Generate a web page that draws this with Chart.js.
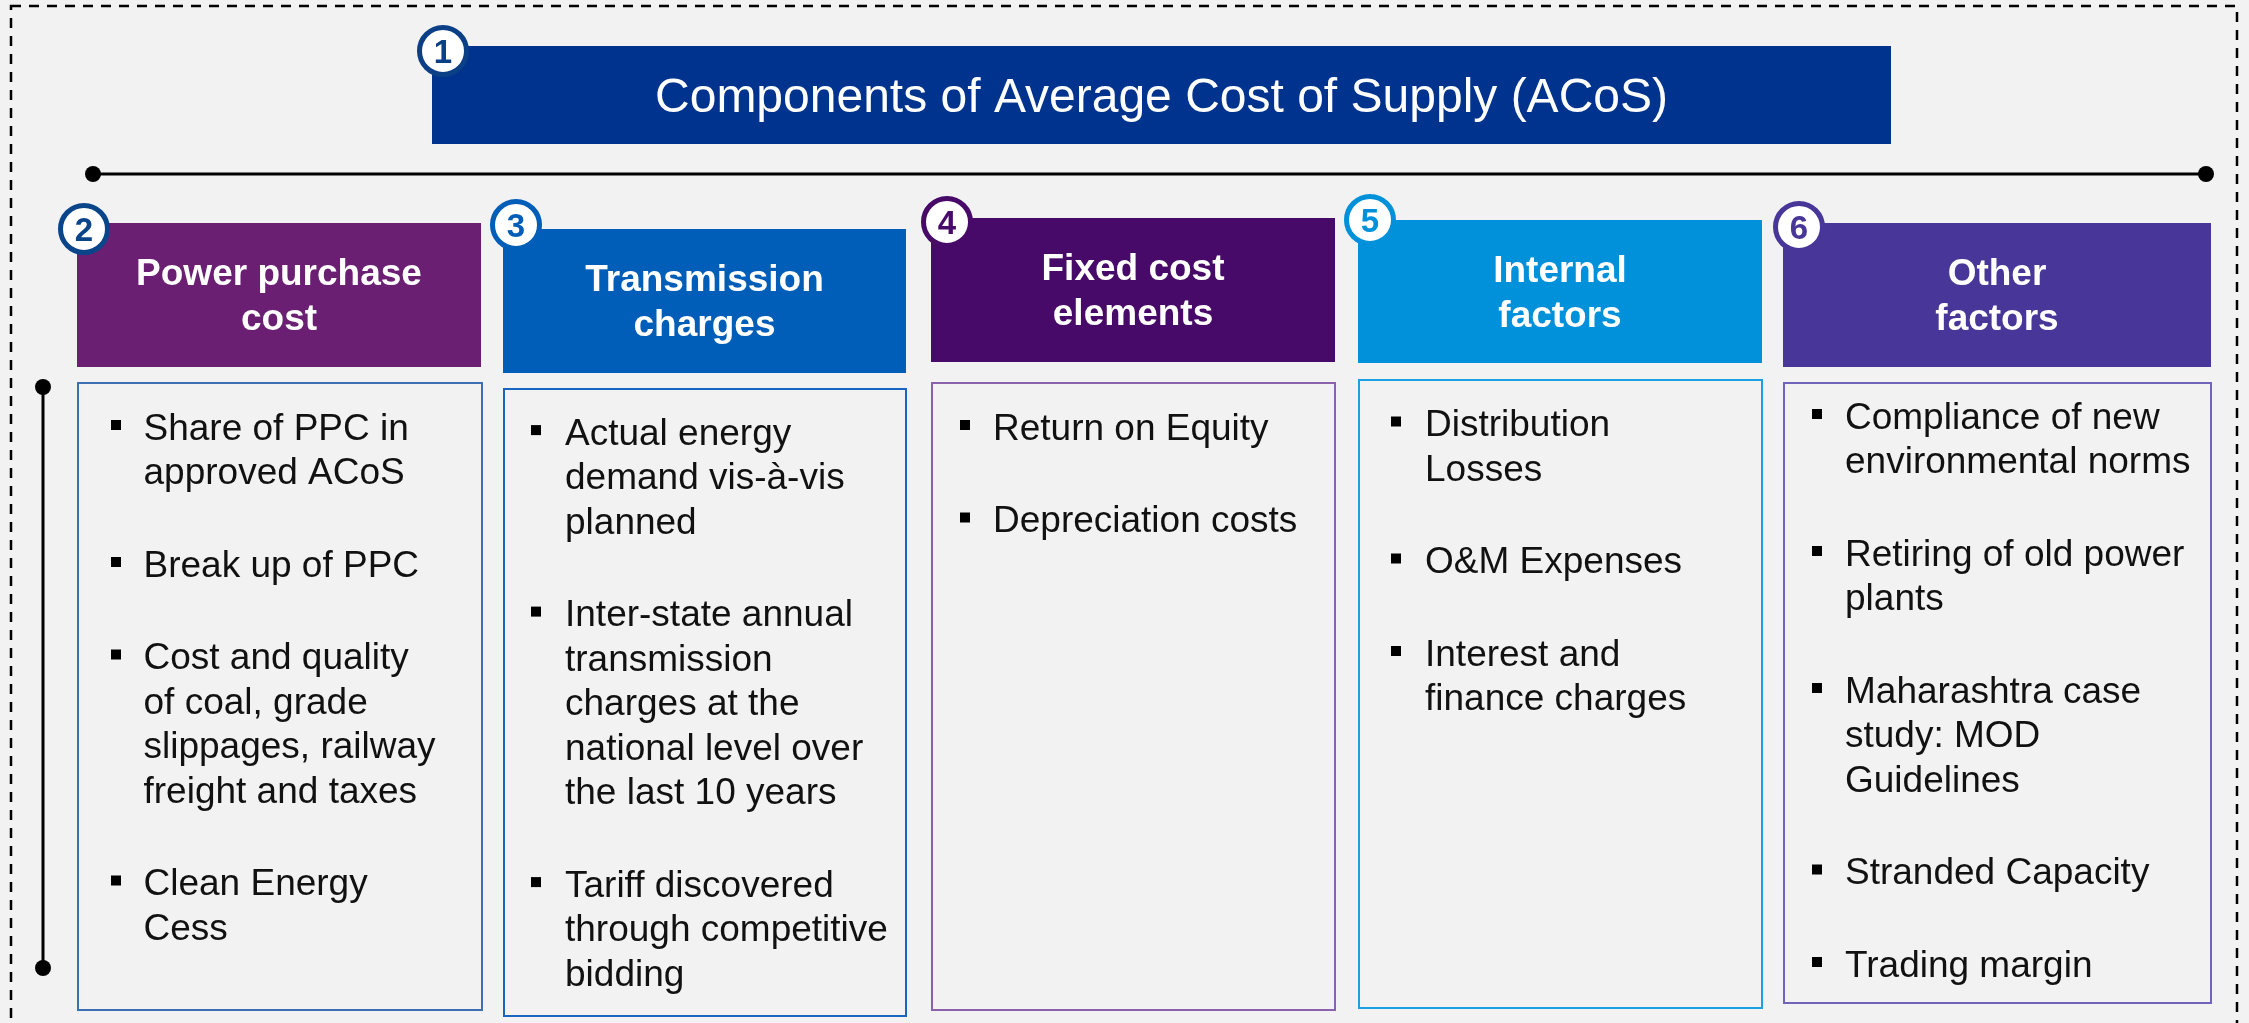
<!DOCTYPE html>
<html><head><meta charset="utf-8">
<script src="https://cdn.jsdelivr.net/npm/chart.js@4.4.1/dist/chart.umd.min.js"></script>
<style>html,body{margin:0;padding:0;background:#F2F2F2;overflow:hidden}canvas{display:block}</style>
</head><body>
<canvas id="c" width="2249" height="1023"></canvas>
<script>
// ---------- content ----------
const titleText = 'Components of Average Cost of Supply (ACoS)';
const badgeNumbers = ['1', '2', '3', '4', '5', '6'];
const categories = [
  ['Power purchase', 'cost'],
  ['Transmission', 'charges'],
  ['Fixed cost', 'elements'],
  ['Internal', 'factors'],
  ['Other', 'factors']
];
const itemsPowerPurchase = [
  ['Share of PPC in', 'approved ACoS'],
  ['Break up of PPC'],
  ['Cost and quality', 'of coal, grade', 'slippages, railway', 'freight and taxes'],
  ['Clean Energy', 'Cess']
];
const itemsTransmission = [
  ['Actual energy', 'demand vis-à-vis', 'planned'],
  ['Inter-state annual', 'transmission', 'charges at the', 'national level over', 'the last 10 years'],
  ['Tariff discovered', 'through competitive', 'bidding']
];
const itemsFixedCost = [
  ['Return on Equity'],
  ['Depreciation costs']
];
const itemsInternal = [
  ['Distribution', 'Losses'],
  ['O&M Expenses'],
  ['Interest and', 'finance charges']
];
const itemsOther = [
  ['Compliance of new', 'environmental norms'],
  ['Retiring of old power', 'plants'],
  ['Maharashtra case', 'study: MOD', 'Guidelines'],
  ['Stranded Capacity'],
  ['Trading margin']
];
const columnItems = [itemsPowerPurchase, itemsTransmission, itemsFixedCost, itemsInternal, itemsOther];

// ---------- layout & style (not data) ----------
const FONT = "'Liberation Sans', Arial, sans-serif";
const layout = {
  frame: [11, 6, 2237, 1040],
  titleBox: [432, 46, 1891, 144],
  titleBadge: [443, 51],
  hLine: [93, 2206, 174],
  vLine: [43, 387, 968],
  headerBoxes: [[77, 223, 481, 367], [503, 229, 906, 373], [931, 218, 1335, 362], [1358, 220, 1762, 363], [1783, 223, 2211, 367]],
  badgeCenters: [[84, 229], [516, 225], [947, 222], [1370, 220], [1799, 227]],
  bodyBoxes: [[78, 383, 482, 1010], [504, 389, 906, 1016], [932, 383, 1335, 1010], [1359, 380, 1762, 1008], [1784, 383, 2211, 1003]],
  bulletX: [111, 531, 960, 1391, 1812],
  textX: [143.5, 565, 993, 1425, 1845],
  firstBaseline: [439.5, 444.6, 439.5, 436, 428.5],
  lineStep: 44.5,
  itemStep: 92.5
};
const styles = {
  bg: '#F2F2F2',
  titleFill: '#00338D',
  titleBadgeRing: '#0B3F86',
  headerFills: ['#6B1F73', '#005EB8', '#470A68', '#0091DA', '#483698'],
  badgeRings: ['#0B4589', '#005EB8', '#470A68', '#0091DA', '#483698'],
  bodyBorders: ['#3D6EB3', '#1666C2', '#8A62AB', '#1BA1E2', '#7063BA'],
  text: '#111111'
};

const diagramPlugin = {
  id: 'diagram',
  beforeDraw(chart) {
    const ctx = chart.ctx;
    const sx = chart.scales.x, sy = chart.scales.y;
    const X = v => sx.getPixelForValue(v);
    const Y = v => sy.getPixelForValue(v);
    const rect = (b, fill, stroke, lw) => {
      const x0 = X(b[0]), y0 = Y(b[1]), x1 = X(b[2]), y1 = Y(b[3]);
      if (fill) { ctx.fillStyle = fill; ctx.fillRect(x0, y0, x1 - x0, y1 - y0); }
      if (stroke) { ctx.strokeStyle = stroke; ctx.lineWidth = lw; ctx.strokeRect(x0, y0, x1 - x0, y1 - y0); }
    };
    const badge = (c, label, color) => {
      ctx.beginPath();
      ctx.arc(X(c[0]), Y(c[1]), 23.5, 0, Math.PI * 2);
      ctx.fillStyle = '#FFFFFF';
      ctx.fill();
      ctx.lineWidth = 5;
      ctx.strokeStyle = color;
      ctx.stroke();
      ctx.fillStyle = color;
      ctx.font = 'bold 33px ' + FONT;
      ctx.textAlign = 'center';
      ctx.textBaseline = 'alphabetic';
      ctx.fillText(label, X(c[0]), Y(c[1]) + 12);
    };
    const dot = (x, y) => {
      ctx.beginPath(); ctx.arc(X(x), Y(y), 8, 0, Math.PI * 2); ctx.fillStyle = '#000'; ctx.fill();
    };

    ctx.save();
    ctx.fillStyle = styles.bg;
    ctx.fillRect(0, 0, chart.width, chart.height);
    ctx.setLineDash([10, 8]);
    ctx.strokeStyle = '#000';
    ctx.lineWidth = 2.5;
    const f = layout.frame;
    ctx.strokeRect(X(f[0]), Y(f[1]), X(f[2]) - X(f[0]), Y(f[3]) - Y(f[1]));
    ctx.setLineDash([]);

    const tb = layout.titleBox;
    rect(tb, styles.titleFill);
    ctx.fillStyle = '#FFFFFF';
    ctx.font = '48px ' + FONT;
    ctx.textAlign = 'center';
    ctx.textBaseline = 'alphabetic';
    ctx.fillText(titleText, X((tb[0] + tb[2]) / 2), Y((tb[1] + tb[3]) / 2) + 17);
    badge(layout.titleBadge, badgeNumbers[0], styles.titleBadgeRing);

    ctx.strokeStyle = '#000';
    ctx.lineWidth = 3;
    const h = layout.hLine, v = layout.vLine;
    ctx.beginPath(); ctx.moveTo(X(h[0]), Y(h[2])); ctx.lineTo(X(h[1]), Y(h[2])); ctx.stroke();
    ctx.beginPath(); ctx.moveTo(X(v[0]), Y(v[1])); ctx.lineTo(X(v[0]), Y(v[2])); ctx.stroke();
    dot(h[0], h[2]); dot(h[1], h[2]); dot(v[0], v[1]); dot(v[0], v[2]);

    categories.forEach((lines, i) => {
      const hb = layout.headerBoxes[i];
      rect(hb, styles.headerFills[i]);
      ctx.fillStyle = '#FFFFFF';
      ctx.font = 'bold 37px ' + FONT;
      ctx.textAlign = 'center';
      const cx = X((hb[0] + hb[2]) / 2), cy = Y((hb[1] + hb[3]) / 2);
      const n = lines.length;
      lines.forEach((t, k) => {
        ctx.fillText(t, cx, cy + 12.5 + (k - (n - 1) / 2) * 45);
      });
      badge(layout.badgeCenters[i], badgeNumbers[i + 1], styles.badgeRings[i]);

      const bb = layout.bodyBoxes[i];
      rect(bb, styles.bg, styles.bodyBorders[i], 2);
      ctx.font = '37px ' + FONT;
      ctx.textAlign = 'left';
      let base = layout.firstBaseline[i];
      columnItems[i].forEach(item => {
        ctx.fillStyle = '#000';
        ctx.fillRect(X(layout.bulletX[i]), Y(base - 19.5), 10, 10);
        ctx.fillStyle = styles.text;
        item.forEach((t, k) => {
          ctx.fillText(t, X(layout.textX[i]), Y(base + k * layout.lineStep));
        });
        base += (item.length - 1) * layout.lineStep + layout.itemStep;
      });
    });
    ctx.restore();
  }
};

new Chart(document.getElementById('c'), {
  type: 'scatter',
  data: { datasets: [{ data: [], showLine: false }] },
  options: {
    responsive: false,
    animation: false,
    devicePixelRatio: 1,
    layout: { padding: 0 },
    plugins: { legend: { display: false }, tooltip: { enabled: false }, title: { display: false } },
    scales: {
      x: { type: 'linear', min: 0, max: 2249, display: false },
      y: { type: 'linear', min: 0, max: 1023, reverse: true, display: false }
    }
  },
  plugins: [diagramPlugin]
});
</script>
</body></html>
